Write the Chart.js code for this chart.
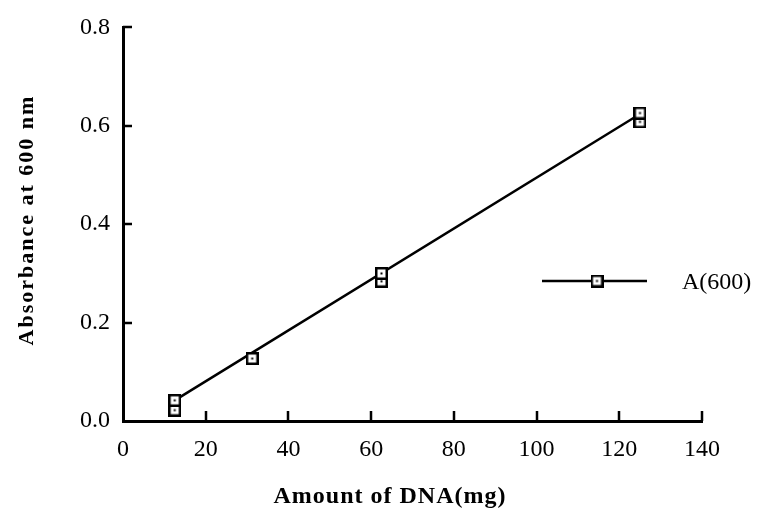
<!DOCTYPE html>
<html>
<head>
<meta charset="utf-8">
<script src="https://cdn.jsdelivr.net/npm/chart.js@4/dist/chart.umd.min.js"></script>
<style>
html, body { margin: 0; padding: 0; background: #fff; }
</style>
</head>
<body>
<canvas id="c" width="761" height="519"></canvas>
<script>
// measured points (two replicates at some amounts)
const amounts = [12.5, 12.5, 31.25, 62.5, 62.5, 125, 125];
const absorbance = [0.022, 0.042, 0.127, 0.284, 0.300, 0.608, 0.626];
// fitted line end points
const fitX = [12.5, 125];
const fitY = [0.042, 0.624];
const xTicks = [0, 20, 40, 60, 80, 100, 120, 140];
const yTicks = [0.0, 0.2, 0.4, 0.6, 0.8];
const seriesLabel = 'A(600)';
const xTitle = 'Amount of DNA(mg)';
const yTitle = 'Absorbance at 600 nm';

const SERIF = '"Liberation Serif", "DejaVu Serif", serif';

function makeMarker() {
  const m = document.createElement('canvas');
  m.width = 13; m.height = 13;
  const g = m.getContext('2d');
  g.fillStyle = '#fff';
  g.fillRect(1, 1, 11, 11);
  g.strokeStyle = '#000';
  g.lineWidth = 2.5;
  g.strokeRect(1.25, 1.25, 10.5, 10.5);
  g.fillStyle = '#000';
  g.fillRect(5.5, 5.5, 2, 2);
  return m;
}
const marker = makeMarker();

const extras = {
  id: 'extras',
  afterDraw(chart) {
    const ctx = chart.ctx;
    const xs = chart.scales.x, ys = chart.scales.y;
    const area = chart.chartArea;
    ctx.save();
    ctx.strokeStyle = '#000';
    ctx.lineWidth = 2.5;
    // inward ticks
    ctx.beginPath();
    yTicks.forEach(v => {
      if (v === 0) return;
      const py = Math.round(ys.getPixelForValue(v));
      ctx.moveTo(area.left, py);
      ctx.lineTo(area.left + 9, py);
    });
    xTicks.forEach(v => {
      if (v === 0) return;
      const px = Math.round(xs.getPixelForValue(v));
      ctx.moveTo(px, area.bottom);
      ctx.lineTo(px, area.bottom - 10);
    });
    ctx.stroke();

    // legend
    const ly = 281;
    ctx.beginPath();
    ctx.moveTo(542, ly);
    ctx.lineTo(647, ly);
    ctx.stroke();
    ctx.drawImage(marker, 597 - 6.5, ly - 6.5);
    ctx.fillStyle = '#000';
    ctx.font = '24px ' + SERIF;
    ctx.textAlign = 'left';
    ctx.textBaseline = 'middle';
    ctx.fillText(seriesLabel, 682, ly + 2);

    // axis titles
    ctx.letterSpacing = '1px';
    ctx.font = 'bold 24px ' + SERIF;
    ctx.textAlign = 'center';
    ctx.fillText(xTitle, 390, 497);

    ctx.letterSpacing = '2px';
    ctx.font = 'bold 22px ' + SERIF;
    ctx.translate(27, 220);
    ctx.rotate(-Math.PI / 2);
    ctx.fillText(yTitle, 0, 0);
    ctx.restore();
  }
};

new Chart(document.getElementById('c'), {
  type: 'scatter',
  data: {
    datasets: [
      {
        label: seriesLabel,
        data: amounts.map((x, i) => ({ x, y: absorbance[i] })),
        pointStyle: marker,
        showLine: false
      },
      {
        label: 'fit',
        data: fitX.map((x, i) => ({ x, y: fitY[i] })),
        showLine: true,
        borderColor: '#000',
        borderWidth: 2.5,
        pointRadius: 0
      }
    ]
  },
  options: {
    responsive: false,
    animation: false,
    layout: { padding: { top: 20, right: 59, left: 0, bottom: 0 } },
    plugins: { legend: { display: false }, tooltip: { enabled: false } },
    scales: {
      x: {
        type: 'linear',
        min: 0, max: 140,
        afterBuildTicks: s => { s.ticks = xTicks.map(v => ({ value: v })); },
        afterFit: s => { s.height = 98; },
        ticks: { color: '#000', font: { family: SERIF, size: 24 }, padding: 14 },
        grid: { drawOnChartArea: false, drawTicks: false },
        border: { color: '#000', width: 3 }
      },
      y: {
        min: 0, max: 0.8,
        afterBuildTicks: s => { s.ticks = yTicks.map(v => ({ value: v })); },
        afterFit: s => { s.width = 123; },
        ticks: { color: '#000', font: { family: SERIF, size: 24 }, padding: 13,
                 callback: v => v.toFixed(1) },
        grid: { drawOnChartArea: false, drawTicks: false },
        border: { color: '#000', width: 3 }
      }
    }
  },
  plugins: [extras]
});
</script>
</body>
</html>
